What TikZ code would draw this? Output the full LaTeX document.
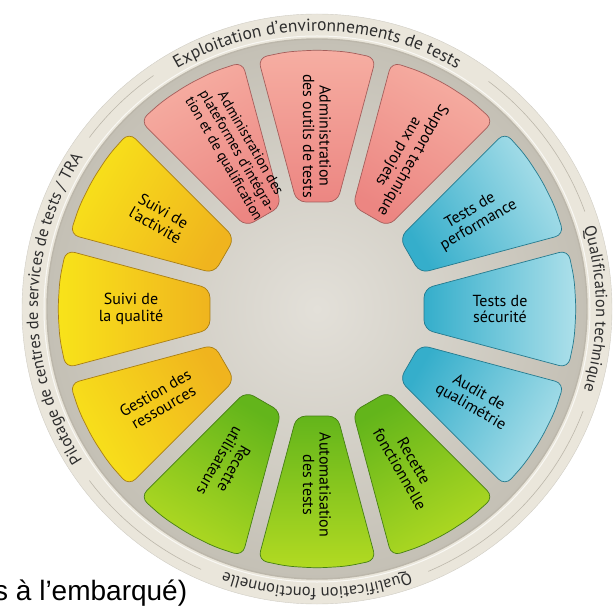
\documentclass[tikz,border=0pt]{standalone}
\usepackage{fontspec}
\setmainfont{PT Sans}
\newfontfamily\arialfont{Liberation Sans}
\usetikzlibrary{decorations.text}
\definecolor{pinkin}{HTML}{EC8682}
\definecolor{pinkout}{HTML}{F6AEA2}
\definecolor{bluein}{HTML}{35AECB}
\definecolor{blueout}{HTML}{ADE0EA}
\definecolor{greenin}{HTML}{63B51B}
\definecolor{greenout}{HTML}{B2DA22}
\definecolor{yellowin}{HTML}{F0B41E}
\definecolor{yellowout}{HTML}{F8E31A}
\definecolor{rimfill}{HTML}{EAE6DB}
\definecolor{rimline}{HTML}{BCB7AB}
\definecolor{hubin}{HTML}{E3E0D9}
\definecolor{hubout}{HTML}{C4C0B5}
\definecolor{ringtxt}{HTML}{2E2E2E}
\newcommand{\ringfont}{\fontsize{16.5}{16.5}\selectfont\color{ringtxt}}
% one coloured petal: angle, inner colour, outer colour
\newcommand{\petal}[3]{%
  \pgfmathsetmacro{\shang}{#1-90}%
  \path[draw=#2!70!black, line width=0.7pt, rounded corners=9pt,
        top color=#3, bottom color=#2, shading angle=\shang]
    (#1-13.2:258) -- (#1-6.6:259) -- (#1:259) -- (#1+6.6:259) -- (#1+13.2:258)
    -- (#1+10.8:109) -- (#1-10.8:109) -- cycle;}

\begin{document}
\begin{tikzpicture}[x=1pt, y=1pt,
    lab/.style = {align=center, text=black, font=\fontsize{16}{16.5}\selectfont},
    rim/.style = {draw=rimline, line width=0.6pt}]
    \useasboundingbox (-317,-301) rectangle (298,309);

    % rim and hub
    \fill[rimfill] (0,0) circle[radius=295];
    \draw[rimline!70] (0,0) circle[radius=295];
    \shade[inner color=hubin, outer color=hubout] (0,0) circle[radius=270];
    \draw[rimline, line width=1.4pt] (0,0) circle[radius=270];
    \draw[white!70!rimfill, line width=1pt] (0,0) circle[radius=273];

    % thin arcs between the rim titles
    \draw[rim] (53:285) arc[start angle=53, end angle=20, radius=285];
    \draw[rim] (-21:285) arc[start angle=-21, end angle=-67, radius=285];
    \draw[rim] (-114:285) arc[start angle=-114, end angle=-143, radius=285];
    \draw[rim] (143:285) arc[start angle=143, end angle=125, radius=285];

    % rim titles
    \path[decorate, decoration={text along path, text align=center,
        text={|\fontsize{17.5}{17.5}\selectfont\color{ringtxt}|Exploitation d'environnements de tests}}]
        (150:278) arc[start angle=150, end angle=30, radius=278];
    \path[decorate, decoration={text along path, text align=center,
        text={|\ringfont|Qualification technique}}]
        (45:279) arc[start angle=45, end angle=-45, radius=279];
    \path[decorate, decoration={text along path, text align=center,
        text={|\ringfont|Qualification fonctionnelle}}]
        (-45:279) arc[start angle=-45, end angle=-135, radius=279];
    \path[decorate, decoration={text along path, text align=center,
        text={|\ringfont|Pilotage de centres de services de tests / TRA}}]
        (225:279) arc[start angle=225, end angle=135, radius=279];

    % petals
    \petal{120}{pinkin}{pinkout}
    \petal{90}{pinkin}{pinkout}
    \petal{60}{pinkin}{pinkout}
    \petal{30}{bluein}{blueout}
    \petal{0}{bluein}{blueout}
    \petal{-30}{bluein}{blueout}
    \petal{-60}{greenin}{greenout}
    \petal{-90}{greenin}{greenout}
    \petal{-120}{greenin}{greenout}
    \petal{210}{yellowin}{yellowout}
    \petal{180}{yellowin}{yellowout}
    \petal{150}{yellowin}{yellowout}

    % petal labels
    \node[lab, rotate=300, font=\fontsize{14.5}{15.5}\selectfont] (adm) at (117:177)
        {Administration des\\plateformes d'intégra-\\tion et de qualification};
    \node[lab, rotate=270] (outils) at (90:173)
        {Administration\\des outils de tests};
    \node[lab, rotate=240] (support) at (60:177)
        {Support technique\\aux projets};
    \node[lab, rotate=30] (perf) at (30:182)
        {Tests de\\performance};
    \node[lab] (secu) at (0:183)
        {Tests de\\sécurité};
    \node[lab, rotate=-30] (audit) at (-30:182)
        {Audit de\\qualimétrie};
    \node[lab, rotate=-60] (recfonc) at (-60:180)
        {Recette\\fonctionnelle};
    \node[lab, rotate=-90] (auto) at (-90:176)
        {Automatisation\\des tests};
    \node[lab, rotate=-120] (recutil) at (-120:180)
        {Recette\\utilisateurs};
    \node[lab, rotate=30] (gestion) at (210:182)
        {Gestion des\\ressources};
    \node[lab] (qualite) at (180:186)
        {Suivi de\\la qualité};
    \node[lab, rotate=-30] (activite) at (150:182)
        {Suivi de\\l'activité};

    % stray caption cut by the frame
    \node[anchor=base west, inner sep=0pt, font=\arialfont\fontsize{28}{28}\selectfont]
        (note) at (-323,-291) {s à l’embarqué)};
\end{tikzpicture}
\end{document}
